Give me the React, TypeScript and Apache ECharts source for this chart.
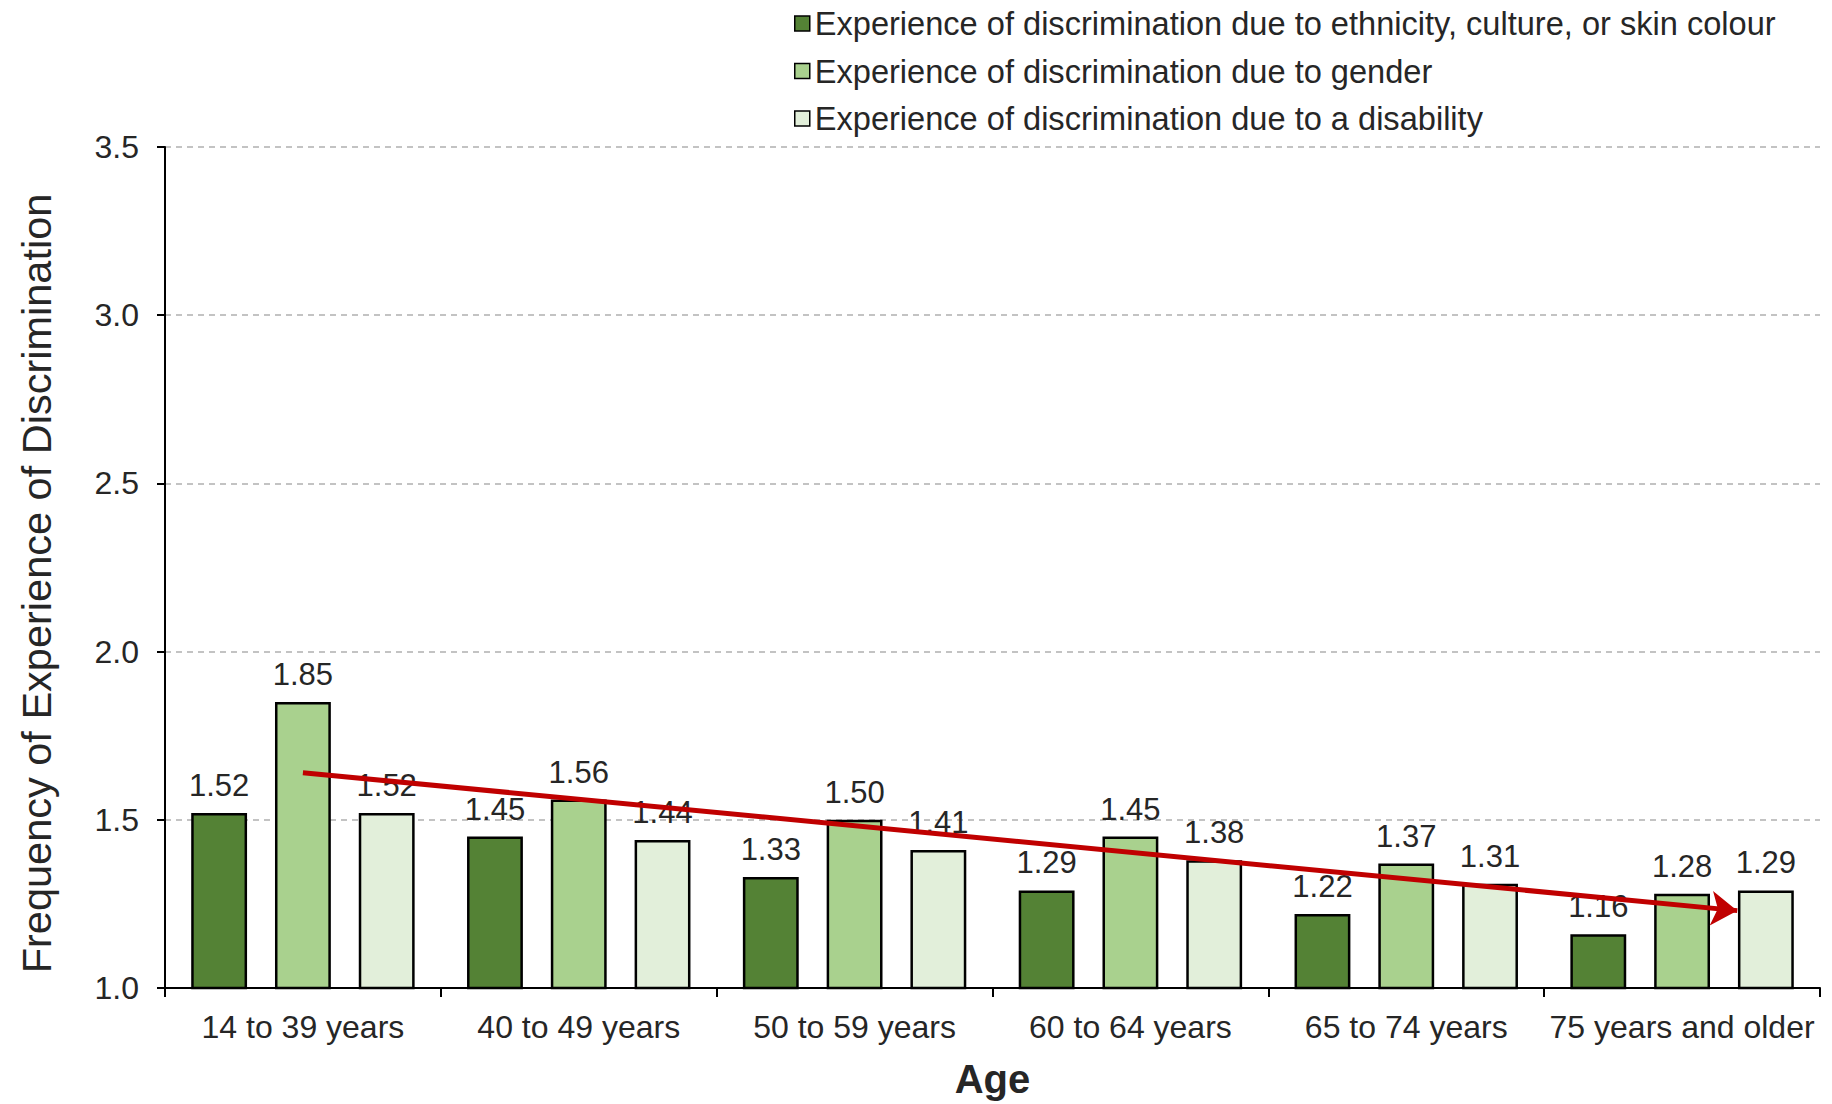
import React, { useEffect, useRef } from "react";
import * as echarts from "echarts";

const categories = ["14 to 39 years", "40 to 49 years", "50 to 59 years", "60 to 64 years", "65 to 74 years", "75 years and older"];
const seriesNames = [
  "Experience of discrimination due to ethnicity, culture, or skin colour",
  "Experience of discrimination due to gender",
  "Experience of discrimination due to a disability",
];
const ethnicity = [1.52, 1.45, 1.33, 1.29, 1.22, 1.16];
const gender = [1.85, 1.56, 1.5, 1.45, 1.37, 1.28];
const disability = [1.52, 1.44, 1.41, 1.38, 1.31, 1.29];
const seriesColors = ["#548235", "#A9D18E", "#E2EFDA"];
// trend arrow in data space: [category position, value]
const trendStart = [0.5, 1.64];
const trendEnd = [5.7, 1.23];

const FONT = "'Liberation Sans', Arial, sans-serif";
const TXT = "#262626";

export default function App() {
  const ref = useRef<HTMLDivElement>(null);
  useEffect(() => {
    document.body.style.margin = "0";
    const chart = echarts.init(ref.current!, null, { renderer: "svg" });
    const values = [ethnicity, gender, disability];
    const barSeries = values.map((d, i) => ({
      name: seriesNames[i],
      type: "bar",
      data: d,
      barGap: "50%",
      barCategoryGap: "19%",
      itemStyle: { color: seriesColors[i], borderColor: "#000", borderWidth: 2.5 },
      label: {
        show: true,
        position: "top",
        distance: 12,
        formatter: (p: any) => p.value.toFixed(2),
        fontSize: 31,
        fontFamily: FONT,
        color: TXT,
      },
      silent: true,
    }));
    chart.setOption({
      animation: false,
      textStyle: { fontFamily: FONT },
      legend: {
        orient: "vertical",
        left: 789,
        top: 2,
        itemWidth: 15,
        itemHeight: 15,
        itemGap: 14.5,
        data: seriesNames,
        icon: "rect",
        itemStyle: { borderColor: "#000", borderWidth: 1.5 },
        textStyle: { fontSize: 32.6, lineHeight: 32, color: TXT, fontFamily: FONT },
      },
      grid: { left: 165, right: 12, top: 147, bottom: 109, containLabel: false },
      xAxis: [
        {
          type: "category",
          data: categories,
          name: "Age",
          nameLocation: "middle",
          nameGap: 71,
          nameTextStyle: { fontSize: 40, fontWeight: "bold", color: TXT, fontFamily: FONT },
          axisLine: { lineStyle: { color: "#000", width: 2 } },
          axisTick: { show: true, length: 9, lineStyle: { color: "#000", width: 2 } },
          axisLabel: { interval: 0, fontSize: 32, color: TXT, margin: 23, fontFamily: FONT },
          splitLine: { show: false },
        },
        {
          type: "value",
          min: 0,
          max: 6,
          show: false,
        },
      ],
      yAxis: {
        type: "value",
        min: 1.0,
        max: 3.5,
        interval: 0.5,
        name: "Frequency of Experience of Discrimination",
        nameLocation: "middle",
        nameGap: 108,
        nameTextStyle: { fontSize: 41.5, color: TXT, fontFamily: FONT, padding: [0, 32, 0, 0] },
        axisLine: { show: true, lineStyle: { color: "#000", width: 2 } },
        axisTick: { show: true, length: 8, lineStyle: { color: "#000", width: 2 } },
        axisLabel: { fontSize: 32, color: TXT, margin: 26, fontFamily: FONT, formatter: (v: number) => v.toFixed(1) },
        splitLine: { show: true, lineStyle: { color: "#b0b0b0", type: [6, 5], width: 1.5 } },
      },
      series: [
        ...barSeries,
        {
          name: "trend",
          type: "line",
          xAxisIndex: 1,
          data: [trendStart, trendEnd],
          symbol: "none",
          lineStyle: { opacity: 0, width: 0 },
          silent: true,
          markLine: {
            silent: true,
            symbol: ["none", "arrow"],
            symbolSize: 26,
            label: { show: false },
            lineStyle: { color: "#C00000", width: 5, type: "solid" },
            data: [[{ coord: trendStart }, { coord: trendEnd }]],
          },
        },
      ],
    });
    return () => chart.dispose();
  }, []);
  return <div ref={ref} style={{ width: 1832, height: 1104 }} />;
}
